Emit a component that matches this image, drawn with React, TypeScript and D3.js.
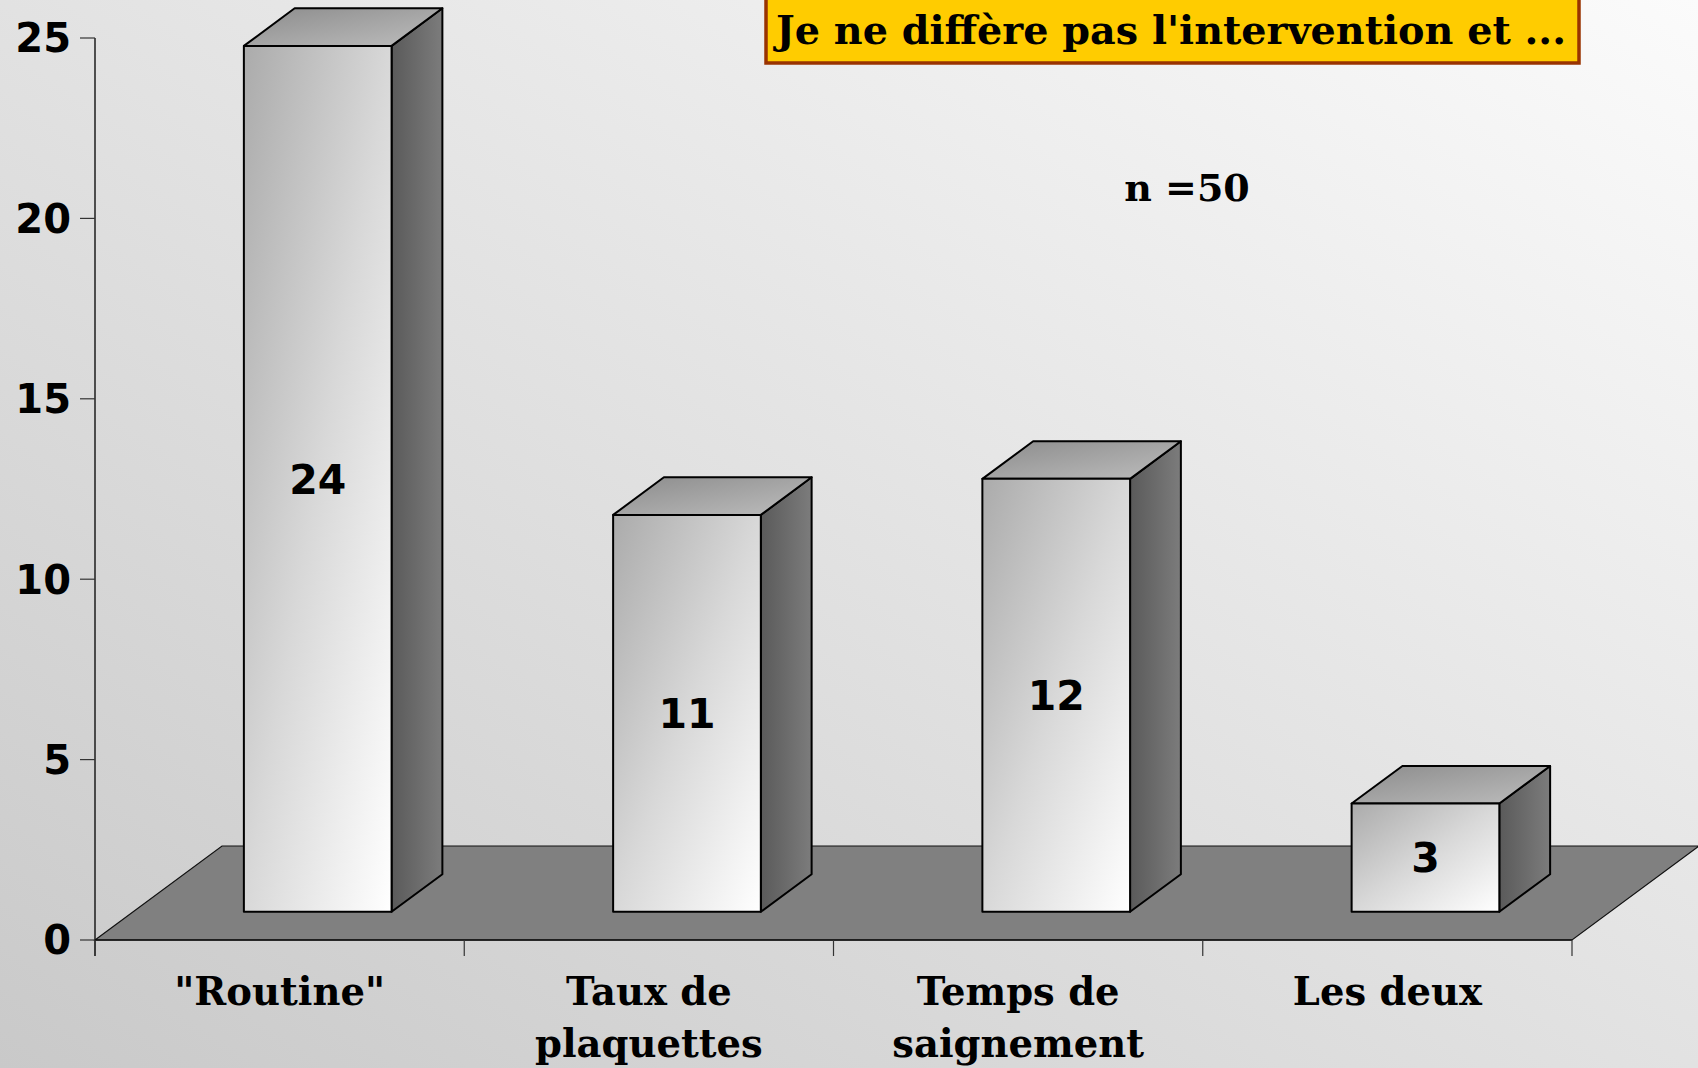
import * as d3 from "d3";
import { useEffect, useRef } from "react";

const categories = ['"Routine"', "Taux de\nplaquettes", "Temps de\nsaignement", "Les deux"];
const counts = [24, 11, 12, 3];
const yTicks = [0, 5, 10, 15, 20, 25];
const titleText = "Je ne diffère pas l'intervention et ...";
const noteText = "n =50";

const W = 1698;
const H = 1068;

// Floor depth vector and where the bars sit inside it.
const DEPTH_X = 127;
const DEPTH_Y = -94;
const BAR_FRONT = 0.3;
const BAR_DEPTH = 0.4;

const SERIF = "'DejaVu Serif', serif";
const SANS = "'DejaVu Sans', sans-serif";

const App = () => {
  const svgRef = useRef<SVGSVGElement>(null);

  useEffect(() => {
    document.body.style.margin = "0";
    const svgEl = svgRef.current;
    if (!svgEl) return;
    const svg = d3.select(svgEl);
    svg.selectAll("*").remove();

    const x = d3.scaleBand<string>().domain(categories).range([95, 1572]);
    const y = d3.scaleLinear().domain([0, 25]).range([940, 38]);
    const y0 = y(0);

    const defs = svg.append("defs");
    const grad = (id: string, x1: string, y1: string, x2: string, y2: string, stops: [number, string][]) => {
      const g = defs
        .append("linearGradient")
        .attr("id", id)
        .attr("x1", x1)
        .attr("y1", y1)
        .attr("x2", x2)
        .attr("y2", y2);
      stops.forEach(([o, c]) => g.append("stop").attr("offset", o).attr("stop-color", c));
    };
    grad("bg", "0", "1", "1", "0", [
      [0, "#c9c9c9"],
      [1, "#fbfbfb"],
    ]);
    grad("front", "0", "0", "1", "1", [
      [0, "#ababab"],
      [0.5, "#d8d8d8"],
      [1, "#ffffff"],
    ]);
    grad("top", "0", "0", "1", "1", [
      [0, "#8c8c8c"],
      [1, "#bdbdbd"],
    ]);
    grad("side", "0", "0", "1", "0", [
      [0, "#5a5a5a"],
      [1, "#7c7c7c"],
    ]);

    svg.append("rect").attr("width", W).attr("height", H).attr("fill", "url(#bg)");

    // floor
    const x0 = x.range()[0];
    const x1 = x.range()[1];
    svg
      .append("path")
      .attr(
        "d",
        `M${x0},${y0}L${x0 + DEPTH_X},${y0 + DEPTH_Y}L${x1 + DEPTH_X},${y0 + DEPTH_Y}L${x1},${y0}Z`
      )
      .attr("fill", "#808080")
      .attr("stroke", "#111")
      .attr("stroke-width", 1.2);

    // y axis
    const axis = svg.append("g");
    axis
      .append("line")
      .attr("x1", x0)
      .attr("x2", x0)
      .attr("y1", y(25))
      .attr("y2", y0 + 16)
      .attr("stroke", "#111")
      .attr("stroke-width", 1.4);
    yTicks.forEach((t) => {
      axis
        .append("line")
        .attr("x1", x0 - 15)
        .attr("x2", x0)
        .attr("y1", y(t))
        .attr("y2", y(t))
        .attr("stroke", "#333")
        .attr("stroke-width", 1.2);
      axis
        .append("text")
        .attr("x", 71)
        .attr("y", y(t))
        .attr("dy", "0.36em")
        .attr("text-anchor", "end")
        .attr("font-family", SANS)
        .attr("font-weight", "bold")
        .attr("font-size", 40)
        .text(t);
    });

    // x axis baseline and ticks
    axis
      .append("line")
      .attr("x1", x0)
      .attr("x2", x1)
      .attr("y1", y0)
      .attr("y2", y0)
      .attr("stroke", "#111")
      .attr("stroke-width", 1.4);
    [...categories.map((c) => x(c)!), x1].forEach((bx) => {
      axis
        .append("line")
        .attr("x1", bx)
        .attr("x2", bx)
        .attr("y1", y0)
        .attr("y2", y0 + 16)
        .attr("stroke", "#333")
        .attr("stroke-width", 1.2);
    });

    // bars
    const bw = x.bandwidth() * 0.4;
    const fx = DEPTH_X * BAR_FRONT;
    const fy = DEPTH_Y * BAR_FRONT;
    const dx = DEPTH_X * BAR_DEPTH;
    const dy = DEPTH_Y * BAR_DEPTH;
    categories.forEach((c, i) => {
      const v = counts[i];
      const left = x(c)! + (x.bandwidth() - bw) / 2 + fx;
      const right = left + bw;
      const base = y0 + fy;
      const top = y(v) + fy;
      const g = svg.append("g").attr("stroke", "#000").attr("stroke-width", 2).attr("stroke-linejoin", "round");
      g.append("path")
        .attr("d", `M${right},${base}L${right + dx},${base + dy}L${right + dx},${top + dy}L${right},${top}Z`)
        .attr("fill", "url(#side)");
      g.append("path")
        .attr("d", `M${left},${top}L${left + dx},${top + dy}L${right + dx},${top + dy}L${right},${top}Z`)
        .attr("fill", "url(#top)");
      g.append("rect")
        .attr("x", left)
        .attr("y", top)
        .attr("width", bw)
        .attr("height", base - top)
        .attr("fill", "url(#front)");
      svg
        .append("text")
        .attr("x", (left + right) / 2)
        .attr("y", (top + base) / 2)
        .attr("dy", "0.36em")
        .attr("text-anchor", "middle")
        .attr("font-family", SANS)
        .attr("font-weight", "bold")
        .attr("font-size", 41)
        .text(v);
    });

    // category labels
    categories.forEach((c) => {
      const lines = c.split("\n");
      const t = svg
        .append("text")
        .attr("text-anchor", "middle")
        .attr("font-family", SERIF)
        .attr("font-weight", "bold")
        .attr("font-size", 38.5)
        .attr("fill", "#000");
      lines.forEach((ln, k) => {
        t.append("tspan")
          .attr("x", x(c)! + x.bandwidth() / 2)
          .attr("y", 1005 + k * 52)
          .text(ln);
      });
    });

    // note
    svg
      .append("text")
      .attr("x", 1187)
      .attr("y", 201)
      .attr("text-anchor", "middle")
      .attr("font-family", SERIF)
      .attr("font-weight", "bold")
      .attr("font-size", 38)
      .text(noteText);

    // title box (top clipped by the page edge)
    svg
      .append("rect")
      .attr("x", 766)
      .attr("y", -40)
      .attr("width", 813)
      .attr("height", 103)
      .attr("fill", "#ffcc00")
      .attr("stroke", "#993300")
      .attr("stroke-width", 3.5);
    svg
      .append("text")
      .attr("x", 776)
      .attr("y", 44)
      .attr("font-family", SERIF)
      .attr("font-weight", "bold")
      .attr("font-size", 39)
      .attr("textLength", 790)
      .attr("lengthAdjust", "spacingAndGlyphs")
      .text(titleText);
  }, []);

  return <svg ref={svgRef} width={W} height={H} style={{ display: "block" }} />;
};

export default App;
